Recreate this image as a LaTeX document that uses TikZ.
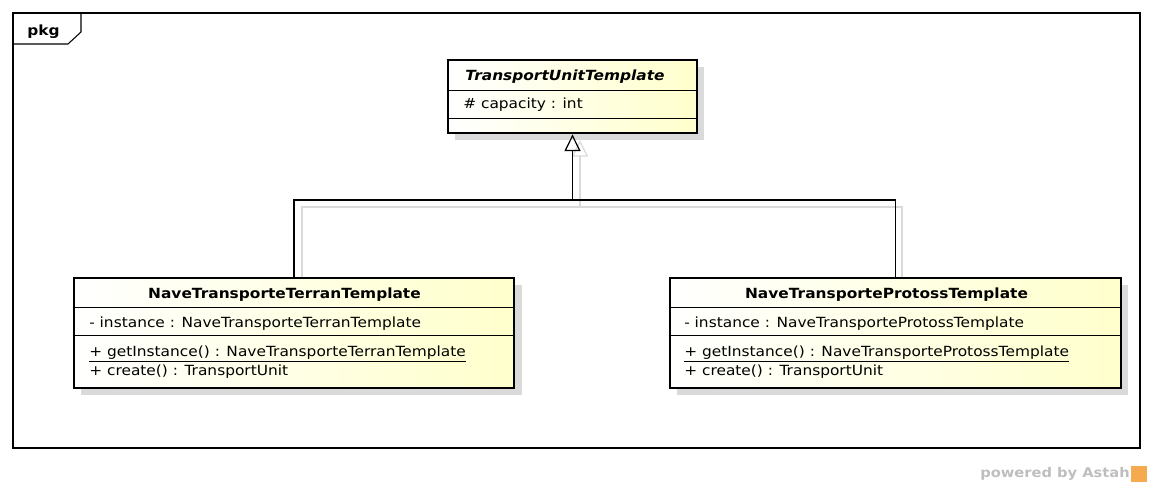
\documentclass[tikz,border=0pt]{standalone}
\usepackage{fontspec}
\setmainfont[FakeStretch=1.1,
  BoldFont={DejaVu Sans Bold},
  ItalicFont={DejaVu Sans Oblique},
  BoldItalicFont={DejaVu Sans Bold Oblique}]{DejaVu Sans}
\usetikzlibrary{arrows.meta,calc,fit}
\definecolor{clsyellow}{RGB}{255,255,204}
\definecolor{shadowgray}{RGB}{218,218,218}
\definecolor{astahgray}{RGB}{190,190,190}
\definecolor{astahorange}{RGB}{245,170,80}
\tikzset{
  cls/.style={draw=black, line width=2.1pt, inner sep=0pt, left color=white, right color=clsyellow},
  clsshadow/.style={fill=shadowgray, draw=none},
  sep/.style={line width=0.7pt, black},
  member/.style={anchor=base west, inner sep=0pt, font=\fontsize{10.5pt}{12pt}\selectfont},
  clsname/.style={anchor=base, inner sep=0pt, font=\fontsize{10.5pt}{12pt}\selectfont\bfseries},
  genline/.style={line width=0.9pt, black},
  genshadow/.style={line width=0.9pt, shadowgray},
  gentip/.style={-{Triangle[open, length=12.5pt, width=12pt, line width=0.9pt]}},
}
\begin{document}
\begin{tikzpicture}[x=0.75pt, y=-0.75pt]
\useasboundingbox (0,0) rectangle (1153,488);
% frame
\draw[line width=0.8pt] (13,13) rectangle (1140,448);
\draw[line width=0.8pt] (13,44) -- (68,44) -- (81,32) -- (81,13);
\node[anchor=base west, inner sep=0pt, font=\fontsize{10.5pt}{12pt}\selectfont\bfseries] (pkg) at (27,36) {pkg};

% shadows of classes
\fill[clsshadow] (455,67) rectangle (704,140);
\fill[clsshadow] (81,285) rectangle (522,395);
\fill[clsshadow] (677,285) rectangle (1128,395);

% connector shadows
\coordinate (jsh) at (580,207);
\draw[genshadow] (302,277) |- (jsh);
\draw[genshadow] (902,277) |- (jsh);
\draw[genshadow, gentip] (jsh) -- (580,140);

% classes
\node[cls, fit={(448,60) (697,133)}] (tut) {};
\node[cls, fit={(74,278) (514,388)}] (terran) {};
\node[cls, fit={(670,278) (1121,388)}] (protoss) {};

% separators
\draw[sep] (tut.west |- 0,90) -- (tut.east |- 0,90);
\draw[sep] (tut.west |- 0,118) -- (tut.east |- 0,118);
\draw[sep] (terran.west |- 0,307) -- (terran.east |- 0,307);
\draw[sep] (terran.west |- 0,335) -- (terran.east |- 0,335);
\draw[sep] (protoss.west |- 0,307) -- (protoss.east |- 0,307);
\draw[sep] (protoss.west |- 0,335) -- (protoss.east |- 0,335);

% texts
\node[clsname, font=\fontsize{10.5pt}{12pt}\selectfont\bfseries\itshape] (tutname) at (565,80.5) {TransportUnitTemplate};
\node[member] (tutattr) at (463,109) {\# capacity : int};

\node[clsname] (tername) at (284.5,299) {NaveTransporteTerranTemplate};
\node[member] (terattr) at (89,327) {- instance : NaveTransporteTerranTemplate};
\node[member] (term1) at (89,356.5) {\underline{+ getInstance() : NaveTransporteTerranTemplate}};
\node[member] (term2) at (89,375) {+ create() : TransportUnit};

\node[clsname] (proname) at (886.5,299) {NaveTransporteProtossTemplate};
\node[member] (proattr) at (684,327) {- instance : NaveTransporteProtossTemplate};
\node[member] (prom1) at (684,356.5) {\underline{+ getInstance() : NaveTransporteProtossTemplate}};
\node[member] (prom2) at (684,375) {+ create() : TransportUnit};

% generalization connectors
\coordinate (j) at (572.5,200);
\draw[genline] (terran.north) |- (j);
\draw[genline] (protoss.north) |- (j);
\draw[genline, gentip] (j) -- (tut.south);

% footer
\node[anchor=base east, inner sep=0pt, text=astahgray, font=\fontsize{10pt}{12pt}\selectfont\bfseries] (powered) at (1130,477) {powered by Astah};
\node[fill=astahorange, inner sep=0pt, minimum width=12pt, minimum height=12pt, anchor=south west] (logo) at (1131,482) {};
\end{tikzpicture}
\end{document}
